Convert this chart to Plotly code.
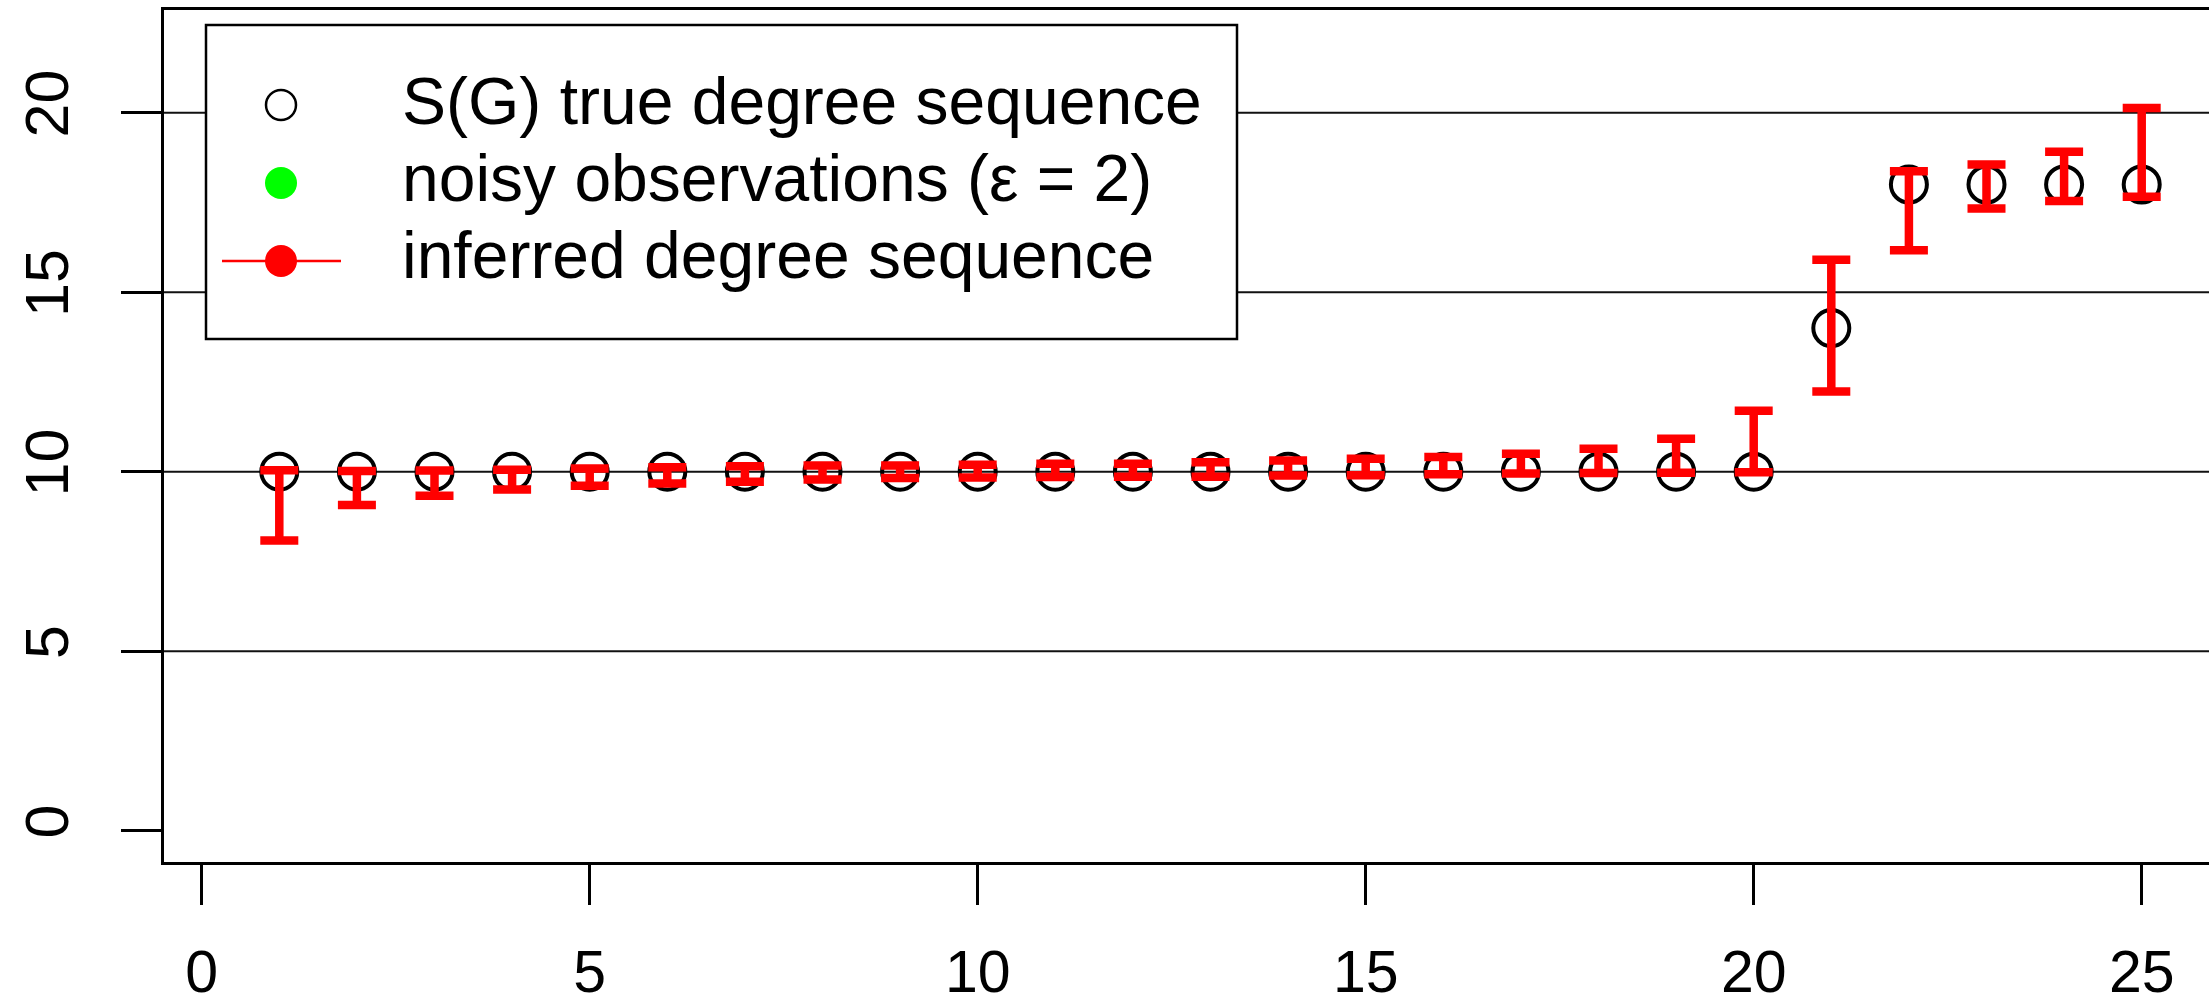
import plotly.graph_objects as go

# Vertex index and degree values
vertex = list(range(1, 26))
true_degree = [10] * 20 + [14, 18, 18, 18, 18]

# Inferred degree sequence: lower / upper ends of the interval per vertex
inferred_lower = [8.08, 9.07, 9.33, 9.50, 9.61, 9.67, 9.72, 9.78, 9.82, 9.84,
                  9.85, 9.86, 9.86, 9.89, 9.90, 9.93, 9.95, 9.96, 9.97, 9.98,
                  12.23, 16.17, 17.33, 17.54, 17.66]
inferred_upper = [10.04, 10.02, 10.03, 10.05, 10.09, 10.12, 10.15, 10.17, 10.17, 10.19,
                  10.22, 10.22, 10.26, 10.31, 10.36, 10.41, 10.50, 10.64, 10.92, 11.70,
                  15.90, 18.37, 18.56, 18.91, 20.13]

x_ticks = [0, 5, 10, 15, 20, 25]
y_ticks = [0, 5, 10, 15, 20]
h_lines = [5, 10, 15, 20]

legend_labels = ["S(G) true degree sequence",
                 "noisy observations (\u03b5 = 2)",
                 "inferred degree sequence"]

W, H = 2209, 1008
L, R, T, B = 164, 0, 10, 146
FONT = "Liberation Sans, Arial, Helvetica, sans-serif"

inferred_mid = [(lo + hi) / 2 for lo, hi in zip(inferred_lower, inferred_upper)]
inferred_half = [(hi - lo) / 2 for lo, hi in zip(inferred_lower, inferred_upper)]

fig = go.Figure()

fig.add_trace(go.Scatter(
    x=vertex, y=true_degree, mode="markers",
    marker=dict(symbol="circle-open", size=36, color="black",
                line=dict(width=4, color="black")),
    showlegend=False, hoverinfo="x+y"))

fig.add_trace(go.Scatter(
    x=vertex, y=inferred_mid, mode="markers",
    marker=dict(size=1, color="rgba(255,0,0,0)"),
    error_y=dict(type="data", array=inferred_half, symmetric=True,
                 color="#ff0000", thickness=8.5, width=19),
    showlegend=False, hoverinfo="x+y"))

# horizontal reference lines
for v in h_lines:
    fig.add_shape(type="line", xref="paper", x0=0, x1=1, yref="y", y0=v, y1=v,
                  line=dict(color="#111111", width=2), layer="below")

plot_w = W - L - R
plot_h = H - T - B


def px(x):
    return (x - L) / plot_w


def py(y):
    return (H - B - y) / plot_h


# legend box
fig.add_shape(type="rect", xref="paper", yref="paper",
              x0=px(206), x1=px(1237), y0=py(339), y1=py(25),
              fillcolor="white", line=dict(color="black", width=2.5), layer="above")

sym_x = 281
rows_y = [105, 183, 261]
text_y = [101, 178, 255]
r = 15
# open circle
fig.add_shape(type="circle", xref="paper", yref="paper",
              xsizemode="pixel", ysizemode="pixel",
              xanchor=px(sym_x), yanchor=py(rows_y[0]),
              x0=-r, x1=r, y0=-r, y1=r,
              line=dict(color="black", width=2.5), fillcolor="rgba(0,0,0,0)", layer="above")
# green dot
fig.add_shape(type="circle", xref="paper", yref="paper",
              xsizemode="pixel", ysizemode="pixel",
              xanchor=px(sym_x), yanchor=py(rows_y[1]),
              x0=-16, x1=16, y0=-16, y1=16,
              line=dict(width=0), fillcolor="#00ff00", layer="above")
# red line + dot
fig.add_shape(type="line", xref="paper", yref="paper",
              x0=px(222), x1=px(341), y0=py(rows_y[2]), y1=py(rows_y[2]),
              line=dict(color="#ff0000", width=2.5), layer="above")
fig.add_shape(type="circle", xref="paper", yref="paper",
              xsizemode="pixel", ysizemode="pixel",
              xanchor=px(sym_x), yanchor=py(rows_y[2]),
              x0=-16, x1=16, y0=-16, y1=16,
              line=dict(width=0), fillcolor="#ff0000", layer="above")

for label, ty in zip(legend_labels, text_y):
    fig.add_annotation(x=px(400), y=py(ty), xref="paper", yref="paper",
                       text=label, showarrow=False, xanchor="left", yanchor="middle",
                       font=dict(family=FONT, size=66, color="black"))

x0_px, x25_px = 201.7, 2141.7
ux = (x25_px - x0_px) / 25
x_range = [(L - x0_px) / ux, (W - R - x0_px) / ux]
y0_px, y20_px = 830.6, 112.7
uy = (y0_px - y20_px) / 20
y_range = [-(H - B - y0_px) / uy, (y0_px - T) / uy]

fig.update_layout(
    width=W, height=H,
    margin=dict(l=L, r=R, t=T, b=B, pad=0, autoexpand=False),
    paper_bgcolor="white", plot_bgcolor="white",
    font=dict(family=FONT, color="black"),
    showlegend=False,
    xaxis=dict(range=x_range, tickvals=x_ticks, ticktext=[str(v) for v in x_ticks],
               showgrid=False, zeroline=False, automargin=False,
               showline=True, linecolor="black", linewidth=3, mirror=True,
               ticks="outside", ticklen=40, tickwidth=2.5, tickcolor="black",
               ticklabelstandoff=16,
               tickfont=dict(family=FONT, size=59, color="black")),
    yaxis=dict(range=y_range, tickvals=y_ticks, ticktext=[str(v) for v in y_ticks],
               showgrid=False, zeroline=False, automargin=False,
               showline=True, linecolor="black", linewidth=3, mirror=False,
               ticks="outside", ticklen=40, tickwidth=2.5, tickcolor="black",
               tickangle=-90, ticklabelstandoff=29,
               tickfont=dict(family=FONT, size=61, color="black")),
)

fig.write_html("out.html")
